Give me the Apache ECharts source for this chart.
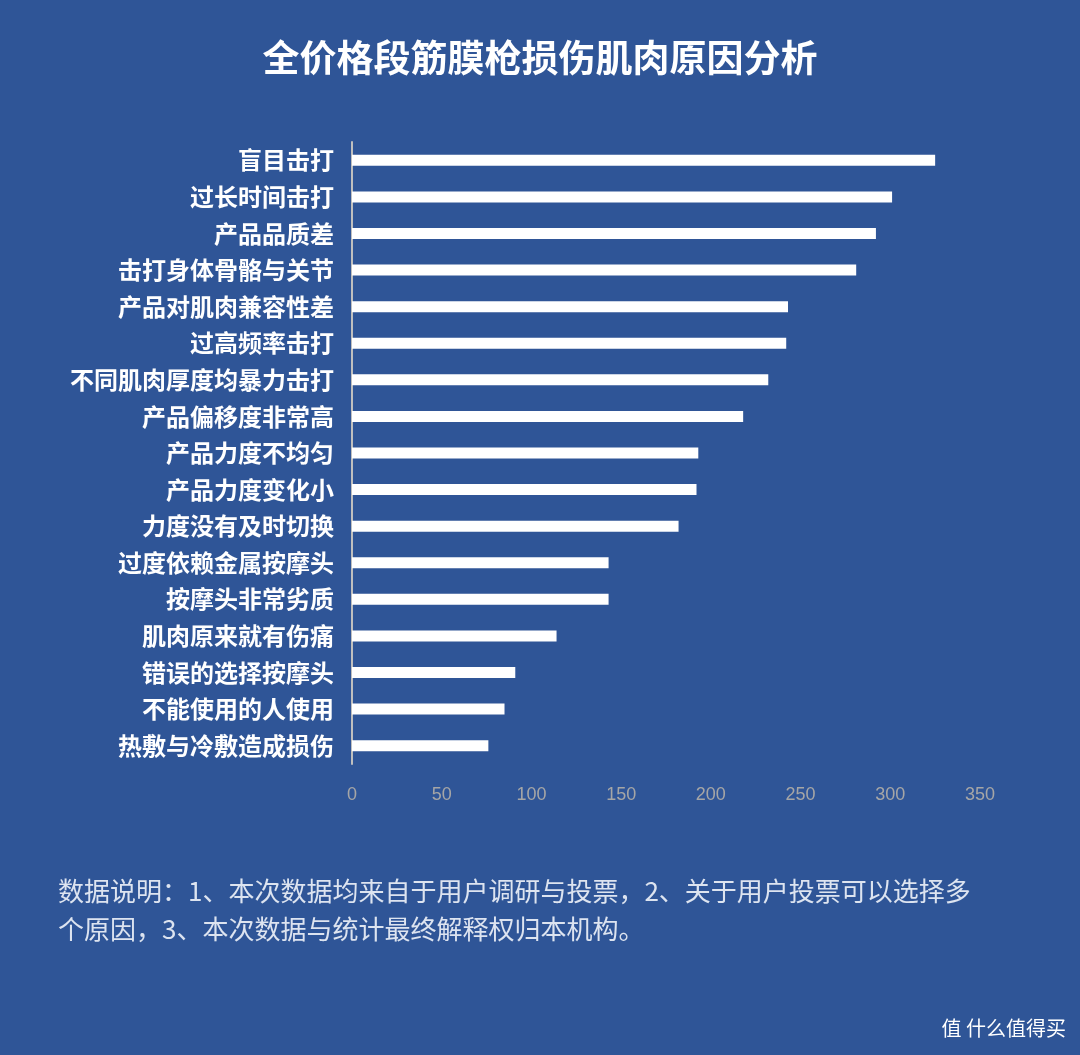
<!DOCTYPE html>
<html><head><meta charset="utf-8">
<script src="https://cdn.jsdelivr.net/npm/echarts@6/dist/echarts.min.js"></script>
<style>html,body{margin:0;padding:0;background:#2f5597}#main{width:1080px;height:1055px}</style>
</head><body><div id="main"></div>
<script>
var categories = ['盲目击打','过长时间击打','产品品质差','击打身体骨骼与关节','产品对肌肉兼容性差','过高频率击打','不同肌肉厚度均暴力击打','产品偏移度非常高','产品力度不均匀','产品力度变化小','力度没有及时切换','过度依赖金属按摩头','按摩头非常劣质','肌肉原来就有伤痛','错误的选择按摩头','不能使用的人使用','热敷与冷敷造成损伤'];
var values = [325, 301, 292, 281, 243, 242, 232, 218, 193, 192, 182, 143, 143, 114, 91, 85, 76];

var chart = echarts.init(document.getElementById('main'));
chart.setOption({
    backgroundColor: '#2f5597',
    title: {
        text: '全价格段筋膜枪损伤肌肉原因分析',
        left: 'center', top: 34,
        textStyle: { color: '#fff', fontSize: 37, fontWeight: 'bold', fontFamily: 'Noto Sans CJK SC' }
    },
    grid: { left: 352, right: 100, top: 142, bottom: 291, containLabel: false },
    xAxis: {
        type: 'value', min: 0, max: 350, interval: 50,
        axisLine: { show: false }, axisTick: { show: false }, splitLine: { show: false },
        axisLabel: { color: '#a6a6a6', fontSize: 18, margin: 22, fontFamily: 'Liberation Sans' }
    },
    yAxis: {
        type: 'category', data: categories, inverse: true,
        axisLine: { show: true, lineStyle: { color: '#bfbfbf', width: 2 } },
        axisTick: { show: false },
        axisLabel: { color: '#fff', fontSize: 24, fontWeight: 'bold', margin: 18, fontFamily: 'Noto Sans CJK SC' }
    },
    series: [{
        type: 'bar', data: values, barWidth: 11,
        itemStyle: { color: '#fff' }, silent: true
    }],
    graphic: [{
        type: 'text', left: 58, top: 872,
        style: {
            text: '数据说明：1、本次数据均来自于用户调研与投票，2、关于用户投票可以选择多\n个原因，3、本次数据与统计最终解释权归本机构。',
            fill: '#dde4f0', fontSize: 26, lineHeight: 38, fontFamily: 'Noto Sans CJK SC'
        }
    }, {
        type: 'text', right: 14, top: 1018,
        style: { text: '值 什么值得买', fill: '#fff', fontSize: 20, fontFamily: 'Noto Sans CJK SC' }
    }]
});
</script></body></html>
